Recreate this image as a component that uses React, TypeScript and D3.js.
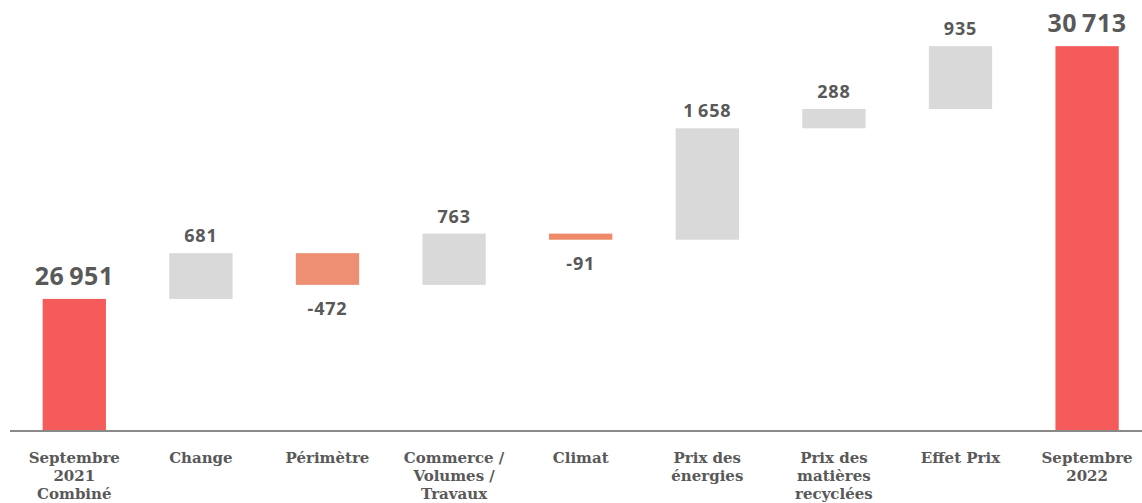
import React from "react";
import * as d3 from "d3";

const categories: string[][] = [
  ["Septembre", "2021", "Combiné"],
  ["Change"],
  ["Périmètre"],
  ["Commerce /", "Volumes /", "Travaux"],
  ["Climat"],
  ["Prix des", "énergies"],
  ["Prix des", "matières", "recyclées"],
  ["Effet Prix"],
  ["Septembre", "2022"],
];
const startValue = 26951;
const deltas = [681, -472, 763, -91, 1658, 288, 935];
const endValue = 30713;

const W = 1142;
const H = 503;
const baseY = 430;

const fmt = (v: number) => {
  const s = Math.abs(v).toString();
  const parts: string[] = [];
  for (let i = s.length; i > 0; i -= 3) parts.unshift(s.slice(Math.max(0, i - 3), i));
  return (v < 0 ? "-" : "") + parts.join("\u2009");
};

export default function App() {
  const x = d3
    .scaleBand<number>()
    .domain(d3.range(categories.length))
    .range([11, 1150.4])
    .paddingInner(0.5)
    .paddingOuter(0.25);
  const y = d3.scaleLinear().domain([25000, 31400]).range([baseY, 0]);

  type Bar = { i: number; lo: number; hi: number; kind: string; label: string; value: number };
  const bars: Bar[] = [];
  bars.push({ i: 0, lo: 25000, hi: startValue, kind: "total", label: fmt(startValue), value: startValue });
  let cum = startValue;
  deltas.forEach((d, k) => {
    const next = cum + d;
    bars.push({ i: k + 1, lo: Math.min(cum, next), hi: Math.max(cum, next), kind: d >= 0 ? "pos" : "neg", label: fmt(d), value: d });
    cum = next;
  });
  bars.push({ i: categories.length - 1, lo: 25000, hi: endValue, kind: "total", label: fmt(endValue), value: endValue });

  const color: Record<string, string> = { total: "#F55B5B", pos: "#D9D9D9", neg: "#EE8E72" };
  const textColor = "#595959";
  const bw = x.bandwidth();

  return (
    <svg width={W} height={H} style={{ position: "absolute", left: 0, top: 0, background: "#fff" }}>
      {bars.map((b) => (
        <rect key={"r" + b.i} x={x(b.i)} y={y(b.hi)} width={bw} height={y(b.lo) - y(b.hi)} fill={b.kind === "neg" && b.i === 4 ? "#EE8A6A" : color[b.kind]} />
      ))}
      <line x1={10} x2={W} y1={baseY + 1} y2={baseY + 1} stroke="#898989" strokeWidth={2} />
      {bars.map((b) => {
        const cx = (x(b.i) as number) + bw / 2;
        const isTotal = b.kind === "total";
        const ty = b.kind === "neg" ? y(b.lo) + 30 : y(b.hi) - (isTotal ? 14 : 11);
        return (
          <text
            key={"t" + b.i}
            x={cx}
            y={ty}
            textAnchor="middle"
            fill={textColor}
            fontFamily="'Open Sans', sans-serif"
            fontWeight={700}
            fontSize={isTotal ? 25 : 18}
            letterSpacing={isTotal ? 0.6 : 0.8}
          >
            {b.label}
          </text>
        );
      })}
      {categories.map((lines, i) => {
        const cx = (x(i) as number) + bw / 2;
        return (
          <text
            key={"c" + i}
            x={cx}
            textAnchor="middle"
            fill={textColor}
            fontFamily="'DejaVu Serif', serif"
            fontWeight="bold"
            fontSize={15}
          >
            {lines.map((l, j) => (
              <tspan key={j} x={cx} y={463 + j * 18}>
                {l}
              </tspan>
            ))}
          </text>
        );
      })}
    </svg>
  );
}
